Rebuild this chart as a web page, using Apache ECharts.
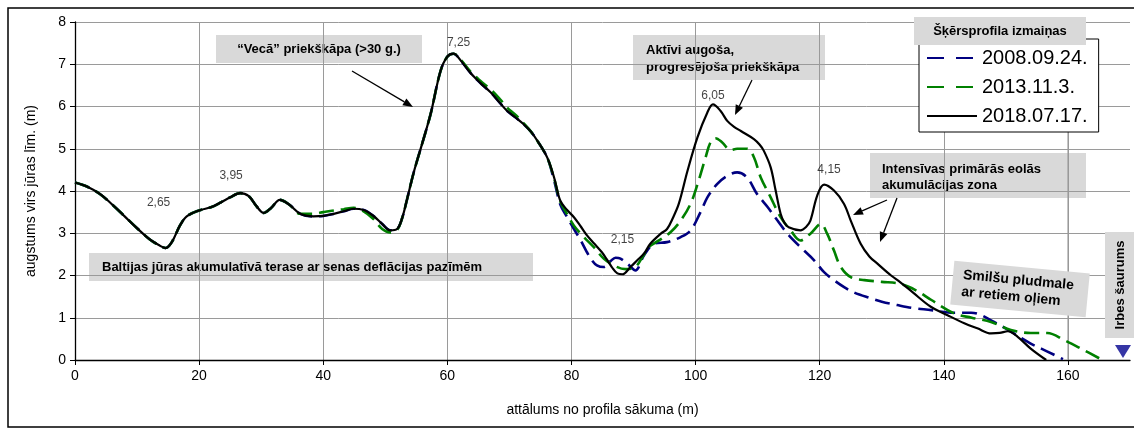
<!DOCTYPE html>
<html>
<head>
<meta charset="utf-8">
<script src="https://cdn.jsdelivr.net/npm/echarts@6/dist/echarts.min.js"></script>
<style>
  html, body { margin: 0; padding: 0; background: #fff; }
  #chart { width: 1134px; height: 432px; }
</style>
</head>
<body>
<div id="chart"></div>
<script>
// Cross-shore profile, distance from profile start (m) vs height above sea level (m)

// Landward part of the profile, where the 2008 and 2018 surveys coincide
const duneX = [0, 2, 4, 6, 8, 10, 12, 13.5, 14.6, 15.6, 16.9, 18, 20, 22, 23.5, 25, 26.6, 28, 29.2, 30.4,
  31.6, 33, 34.5, 36.3, 38.4, 40, 41.7, 43.3, 44.9, 46.5, 48, 49.5, 50.8, 51.9, 52.7, 53.5, 54.6, 56,
  57.3, 58.9, 60, 61, 62.2, 63.7, 65.3, 67, 68.5, 69.6, 71, 72.3, 73.5, 74.5, 76.1];
const duneY = [4.2, 4.1, 3.93, 3.68, 3.4, 3.12, 2.86, 2.72, 2.65, 2.79, 3.18, 3.4, 3.54, 3.62, 3.73, 3.85, 3.95, 3.88, 3.65, 3.48,
  3.6, 3.79, 3.68, 3.46, 3.4, 3.41, 3.46, 3.52, 3.58, 3.55, 3.42, 3.22, 3.07, 3.1, 3.35, 3.8, 4.45, 5.15,
  5.82, 6.84, 7.18, 7.25, 7.08, 6.8, 6.56, 6.33, 6.08, 5.9, 5.74, 5.58, 5.4, 5.19, 4.79];

// 2008.09.24. seaward part
const x2008 = [77.2, 78.2, 79.3, 80.4, 81.5, 82.5, 83.3, 84.1, 85.2, 86.3, 87.1, 87.9, 89.3, 90.3, 91.7, 93.3, 95.4,
  97.6, 99.2, 100.8, 101.9, 103.5, 105.1, 106.7, 108.3, 109.9, 111.6, 113.2, 114.8, 116.9, 119.1, 120.7,
  122.3, 124, 125.5, 128, 130, 132.5, 135, 138, 141.1, 144.4, 148.1, 150.8, 154, 156.7, 159.2];
const y2008 = [4.25, 3.68, 3.38, 3.1, 2.83, 2.55, 2.36, 2.24, 2.2, 2.34, 2.42, 2.4, 2.24, 2.12, 2.48, 2.75, 2.79,
  2.91, 3.07, 3.5, 3.85, 4.17, 4.36, 4.44, 4.32, 3.93, 3.62, 3.3, 2.99, 2.67, 2.36, 2.08,
  1.89, 1.72, 1.6, 1.47, 1.38, 1.3, 1.23, 1.18, 1.12, 1.12, 0.9, 0.67, 0.39, 0.2, 0.02];

// 2013.11.3. whole profile
const x2013 = [0, 2, 4, 6, 8, 10, 12, 13.5, 14.6, 15.6, 16.9, 18, 20, 22, 23.5, 25, 26.6, 28, 29.2, 30.4,
  31.6, 33, 34.5, 36.3, 38.4, 40, 41.7, 43.3, 44.9, 46.5, 48, 49.5, 50.8, 51.9, 52.7, 53.5, 54.6, 56,
  57.3, 58.9, 60, 61, 62.2, 63.7, 65.3, 67, 68.5, 69.6, 71, 72.3, 73.5, 74.5, 76.1,
  77.2, 78.2, 79.3, 80.4, 82, 83.6, 85.2, 86.8, 88.7, 90.1, 91.7, 92.7, 94.1, 96, 97.6, 99.2, 100.5,
  101.6, 102.4, 103.2, 104.3, 105.6, 106.7, 108.3, 109.4, 110.5, 112.1, 113.7, 115.3, 116.9, 118.5,
  120.2, 121.2, 122.3, 123.4, 125, 127.2, 130, 133, 135.5, 138, 141.7, 144.5, 147.6, 150.8, 154,
  156.7, 159.4, 162.1, 165.3];
const y2013 = [4.2, 4.1, 3.93, 3.68, 3.4, 3.12, 2.86, 2.72, 2.65, 2.79, 3.18, 3.4, 3.54, 3.62, 3.73, 3.85, 3.95, 3.88, 3.65, 3.48,
  3.6, 3.79, 3.68, 3.46, 3.46, 3.5, 3.54, 3.57, 3.6, 3.52, 3.35, 3.1, 3.02, 3.08, 3.35, 3.8, 4.45, 5.15,
  5.82, 6.84, 7.18, 7.25, 7.1, 6.83, 6.61, 6.4, 6.17, 5.98, 5.8, 5.6, 5.4, 5.19, 4.79,
  4.3, 3.75, 3.45, 3.18, 2.91, 2.67, 2.4, 2.24, 2.15, 2.18, 2.5, 2.7, 2.83, 3.03, 3.3, 3.7, 4.25,
  4.79, 5.15, 5.25, 5.15, 4.97, 5.0, 5.0, 4.8, 4.32, 3.85, 3.38, 3.07, 2.83, 2.99,
  3.22, 2.99, 2.59, 2.2, 1.96, 1.89, 1.85, 1.8, 1.65, 1.42, 1.1, 1.0, 0.9, 0.71, 0.64,
  0.64, 0.47, 0.27, 0.02];

// 2018.07.17. seaward part
const x2018 = [77.2, 78.2, 79.3, 80.4, 81.5, 82.5, 83.7, 84.9, 85.7, 86.5, 87.4, 88.2, 89.5, 90.6, 91.7, 92.7,
  94.4, 95.4, 96.3, 97.3, 98.7, 100.3, 101.9, 102.8, 104, 105.1, 106.2, 107.3, 109.4, 110.3, 111, 112.1,
  112.9, 113.7, 114.3, 115, 116.9, 117.8, 118.5, 119.6, 120.7, 122.3, 123.9, 125, 126.6, 128, 129.3,
  131.5, 133, 135, 137.9, 140.6, 143.3, 145.4, 147.6, 149, 150.3, 151.9, 154, 156.5];
const y2018 = [4.32, 3.77, 3.55, 3.38, 3.16, 2.95, 2.75, 2.55, 2.38, 2.2, 2.05, 2.03, 2.2, 2.36, 2.52, 2.75,
  2.99, 3.1, 3.35, 3.7, 4.48, 5.27, 5.86, 6.05, 5.9, 5.66, 5.52, 5.42, 5.23, 5.1, 4.95, 4.56,
  4.01, 3.46, 3.25, 3.14, 3.07, 3.15, 3.3, 3.89, 4.15, 4.01, 3.7, 3.3, 2.75, 2.45, 2.28,
  2.0, 1.84, 1.6, 1.26, 1.06, 0.87, 0.75, 0.63, 0.64, 0.68, 0.55, 0.27, 0.0];

// Labelled crest / trough heights
const peakX = [14.6, 26.6, 61, 88.7, 102.8, 120.7];
const peakY = [2.65, 3.95, 7.25, 2.15, 6.05, 4.15];

const seriesNames = ['2008.09.24.', '2013.11.3.', '2018.07.17.'];
const xTicks = [0, 20, 40, 60, 80, 100, 120, 140, 160];
const yRange = [0, 8];

const FONT = '"Liberation Sans", Arial, Helvetica, sans-serif';
const GRID_GREY = '#9a9a9a';
const zip = (xs, ys) => xs.map((x, i) => [x, ys[i]]);

const data2008 = zip(duneX, duneY).concat(zip(x2008, y2008));
const data2013 = zip(x2013, y2013);
const data2018 = zip(duneX, duneY).concat(zip(x2018, y2018));
const lastTick = xTicks[xTicks.length - 1];

// where each height label sits relative to its point (px)
const peakLabelOffset = [[-7, -45], [-9, -17], [5, -11], [-3, -29], [0, -9], [5, -15]];

function arrow(x1, y1, x2, y2) {
  const a = Math.atan2(y2 - y1, x2 - x1);
  const L = 10, W = 4;
  const bx = x2 - L * Math.cos(a), by = y2 - L * Math.sin(a);
  const px = -Math.sin(a) * W, py = Math.cos(a) * W;
  return [
    { type: 'line', z: 100, shape: { x1: x1, y1: y1, x2: bx, y2: by }, style: { stroke: '#000', lineWidth: 1.3 } },
    { type: 'polygon', z: 100, shape: { points: [[x2, y2], [bx + px, by + py], [bx - px, by - py]] }, style: { fill: '#000' } }
  ];
}

const boxFill = '#d9d9d9';
const boldFont = 'bold 13px ' + FONT;

const graphics = [
  // outer frame
  { type: 'rect', z: 100, shape: { x: 8, y: 8, width: 1140, height: 419 }, style: { fill: null, stroke: '#000', lineWidth: 1.5 } },

  // text boxes sitting behind the grid
  { type: 'rect', z: -1, shape: { x: 216, y: 35, width: 206, height: 28 }, style: { fill: boxFill } },
  { type: 'text', z: -1, style: { x: 319, y: 49.5, text: '\u201CVecā\u201D priekškāpa (>30 g.)', font: boldFont, fill: '#000', align: 'center', verticalAlign: 'middle' } },

  { type: 'rect', z: -1, shape: { x: 633, y: 35, width: 192, height: 45 }, style: { fill: boxFill } },
  { type: 'text', z: -1, style: { x: 646, y: 58.5, text: 'Aktīvi augoša,\nprogresējoša priekškāpa', font: boldFont, lineHeight: 17, fill: '#000', align: 'left', verticalAlign: 'middle' } },

  { type: 'rect', z: -1, shape: { x: 870, y: 153, width: 216, height: 45 }, style: { fill: boxFill } },
  { type: 'text', z: -1, style: { x: 882, y: 177, text: 'Intensīvas primārās eolās\nakumulācijas zona', font: boldFont, lineHeight: 16, fill: '#000', align: 'left', verticalAlign: 'middle' } },

  { type: 'rect', z: -1, shape: { x: 89, y: 253, width: 444, height: 28 }, style: { fill: boxFill } },
  { type: 'text', z: -1, style: { x: 102, y: 267, text: 'Baltijas jūras akumulatīvā terase ar senas deflācijas pazīmēm', font: boldFont, fill: '#000', align: 'left', verticalAlign: 'middle' } },

  // tilted beach note
  {
    type: 'group', x: 1020, y: 289, rotation: -0.095, z: 100,
    children: [
      { type: 'rect', z: 100, shape: { x: -68, y: -22, width: 136, height: 44 }, style: { fill: boxFill } },
      { type: 'text', z: 101, style: { x: -58, y: 0, text: 'Smilšu pludmale\nar retiem oļiem', font: 'bold 14px ' + FONT, lineHeight: 17, fill: '#000', align: 'left', verticalAlign: 'middle' } }
    ]
  },

  // strait marker at the seaward end
  { type: 'rect', z: 100, shape: { x: 1105, y: 232, width: 30, height: 106 }, style: { fill: boxFill } },
  { type: 'text', z: 101, x: 1120, y: 285, rotation: Math.PI / 2, style: { x: 0, y: 0, text: 'Irbes šaurums', font: boldFont, fill: '#000', align: 'center', verticalAlign: 'middle' } },
  { type: 'polygon', z: 101, shape: { points: [[1115, 345], [1131, 345], [1123, 358]] }, style: { fill: '#3535a5' } },

  // legend heading
  { type: 'rect', z: 100, shape: { x: 914, y: 17, width: 172, height: 28 }, style: { fill: boxFill } },
  { type: 'text', z: 101, style: { x: 1000, y: 31.5, text: 'Šķērsprofila izmaiņas', font: boldFont, fill: '#000', align: 'center', verticalAlign: 'middle' } }
]
  .concat(arrow(352, 71, 413, 107))
  .concat(arrow(752, 80, 735, 115))
  .concat(arrow(887, 200, 853, 215))
  .concat(arrow(897, 198, 880, 242));

const option = {
  backgroundColor: '#fff',
  animation: false,
  textStyle: { fontFamily: FONT },
  grid: { left: 75, right: 4, top: 22, bottom: 72, containLabel: false },
  legend: {
    orient: 'vertical',
    left: 919, top: 39,
    padding: [9, 11, 6, 7],
    itemGap: 9,
    itemWidth: 50,
    itemHeight: 14,
    backgroundColor: '#fff',
    borderColor: '#000',
    borderWidth: 1,
    borderRadius: 0,
    z: 50,
    itemStyle: { opacity: 0 },
    textStyle: { fontSize: 20, color: '#000', fontFamily: FONT },
    data: [
      { name: seriesNames[0], lineStyle: { type: [17, 12] } },
      { name: seriesNames[1], lineStyle: { type: [17, 12] } },
      { name: seriesNames[2] }
    ]
  },
  xAxis: {
    type: 'value',
    min: 0, max: 170, interval: 20,
    name: 'attālums no profila sākuma (m)',
    nameLocation: 'middle',
    nameGap: 43,
    nameTextStyle: { fontSize: 14, color: '#000', fontFamily: FONT },
    axisLine: { lineStyle: { color: '#000', width: 1.3 } },
    axisTick: { show: true, length: 5, lineStyle: { color: '#000' }, customValues: xTicks },
    axisLabel: { fontSize: 14, color: '#000', margin: 9, customValues: xTicks },
    splitLine: { show: true, lineStyle: { color: GRID_GREY, width: 1 } }
  },
  yAxis: {
    type: 'value',
    min: yRange[0], max: yRange[1], interval: 1,
    name: 'augstums virs jūras līm. (m)',
    nameLocation: 'middle',
    nameGap: 37,
    nameTextStyle: { fontSize: 14, color: '#000', fontFamily: FONT },
    axisLine: { show: true, lineStyle: { color: '#000', width: 1.3 } },
    axisTick: { show: true, length: 5, lineStyle: { color: '#000' } },
    axisLabel: { fontSize: 14, color: '#000', margin: 9 },
    splitLine: { show: true, lineStyle: { color: GRID_GREY, width: 1 } }
  },
  series: [
    {
      // gridline for the last labelled distance, next to the axis end
      name: 'grid-last', type: 'line', z: 1, silent: true, symbol: 'none',
      data: [[lastTick, yRange[0]], [lastTick, yRange[1]]],
      lineStyle: { color: GRID_GREY, width: 1, type: 'solid' },
      emphasis: { disabled: true }
    },
    {
      name: seriesNames[0], type: 'line', data: data2008, smooth: 0.35, symbol: 'none', z: 3,
      lineStyle: { color: '#000080', width: 2.6, type: [15, 7] }, itemStyle: { color: '#000080' }
    },
    {
      name: seriesNames[1], type: 'line', data: data2013, smooth: 0.35, symbol: 'none', z: 4,
      lineStyle: { color: '#008000', width: 2.6, type: [15, 7] }, itemStyle: { color: '#008000' }
    },
    {
      name: seriesNames[2], type: 'line', data: data2018, smooth: 0.35, symbol: 'none', z: 5,
      lineStyle: { color: '#000', width: 2.2 }, itemStyle: { color: '#000' }
    },
    {
      name: 'peaks', type: 'scatter', symbolSize: 0, z: 6, silent: true,
      data: peakX.map((x, i) => ({
        value: [x, peakY[i]],
        label: { offset: peakLabelOffset[i] }
      })),
      label: {
        show: true, position: 'inside', fontSize: 12, color: '#111', fontFamily: FONT,
        formatter: p => p.value[1].toFixed(2).replace('.', ',')
      }
    }
  ],
  graphic: graphics
};

const chart = echarts.init(document.getElementById('chart'), null, { renderer: 'canvas' });
chart.setOption(option);
</script>
</body>
</html>
